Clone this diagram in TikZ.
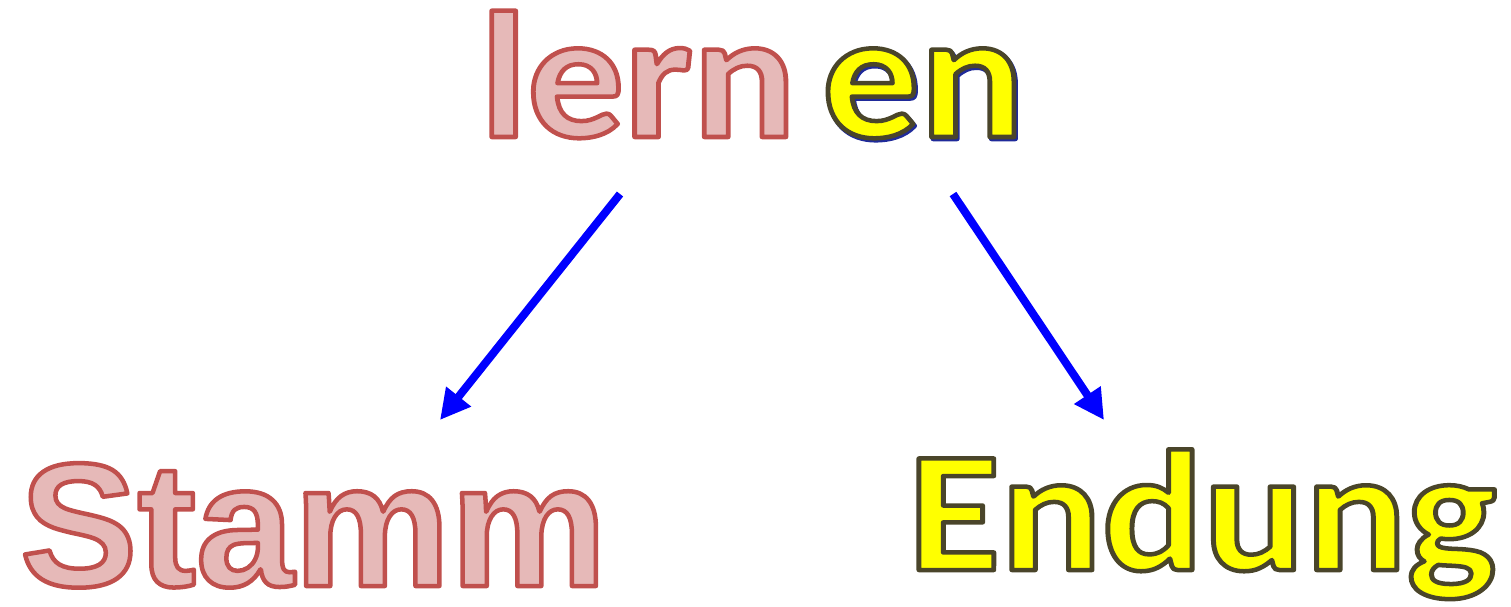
\documentclass[tikz,border=0pt]{standalone}
\usepackage{fontspec}
\usetikzlibrary{arrows.meta}
\newfontfamily\carl{Carlito}
\newfontfamily\libs{Liberation Sans}
\definecolor{stemfill}{HTML}{E6B9B8}
\definecolor{endfill}{HTML}{FFFF00}
\definecolor{shadowblue}{HTML}{1F2A9A}
% #1 text, #2 fill colour, #3 stroke rgb
\newcommand{\outlined}[3]{{\color{#2}\special{pdf:literal direct 2 Tr 4.5 w 1 j #3 RG}#1\special{pdf:literal direct 0 Tr}}}
\newcommand{\stemtext}[1]{\outlined{#1}{stemfill}{0.753 0.314 0.302}}
\newcommand{\suffixtext}[1]{\outlined{#1}{endfill}{0.290 0.271 0.165}}
\newcommand{\shadtext}[1]{\outlined{#1}{shadowblue}{0.122 0.165 0.604}}
\begin{document}
\begin{tikzpicture}[x=1pt,y=-1pt,
  word/.style={inner sep=0pt,outer sep=0pt,anchor=base west},
  branch/.style={draw=blue,line width=8pt,-{Triangle[length=30pt,width=30pt]}}]
\useasboundingbox (0,0) rectangle (1511,606);
\node[word,xscale=1.07] (lern) at (480,137) {\carl\bfseries\fontsize{180}{180}\selectfont\stemtext{lern}};
\node[word,xscale=1.08] (enshadow) at (823.5,139) {\carl\bfseries\fontsize{180}{180}\selectfont\shadtext{en}};
\node[word,xscale=1.08] (en) at (822,137) {\carl\bfseries\fontsize{180}{180}\selectfont\suffixtext{en}};
\node[word] (stamm) at (20,586) {\libs\bfseries\fontsize{176}{176}\selectfont\stemtext{Stamm}};
\node[word,xscale=1.10] (endung) at (908,570) {\carl\bfseries\fontsize{172}{172}\selectfont\suffixtext{Endung}};
\coordinate (a1) at (620,194);
\coordinate (a2) at (440,420);
\coordinate (b1) at (953,194);
\coordinate (b2) at (1104,420);
\draw[branch] (a1) -- (a2);
\draw[branch] (b1) -- (b2);
\end{tikzpicture}
\end{document}
